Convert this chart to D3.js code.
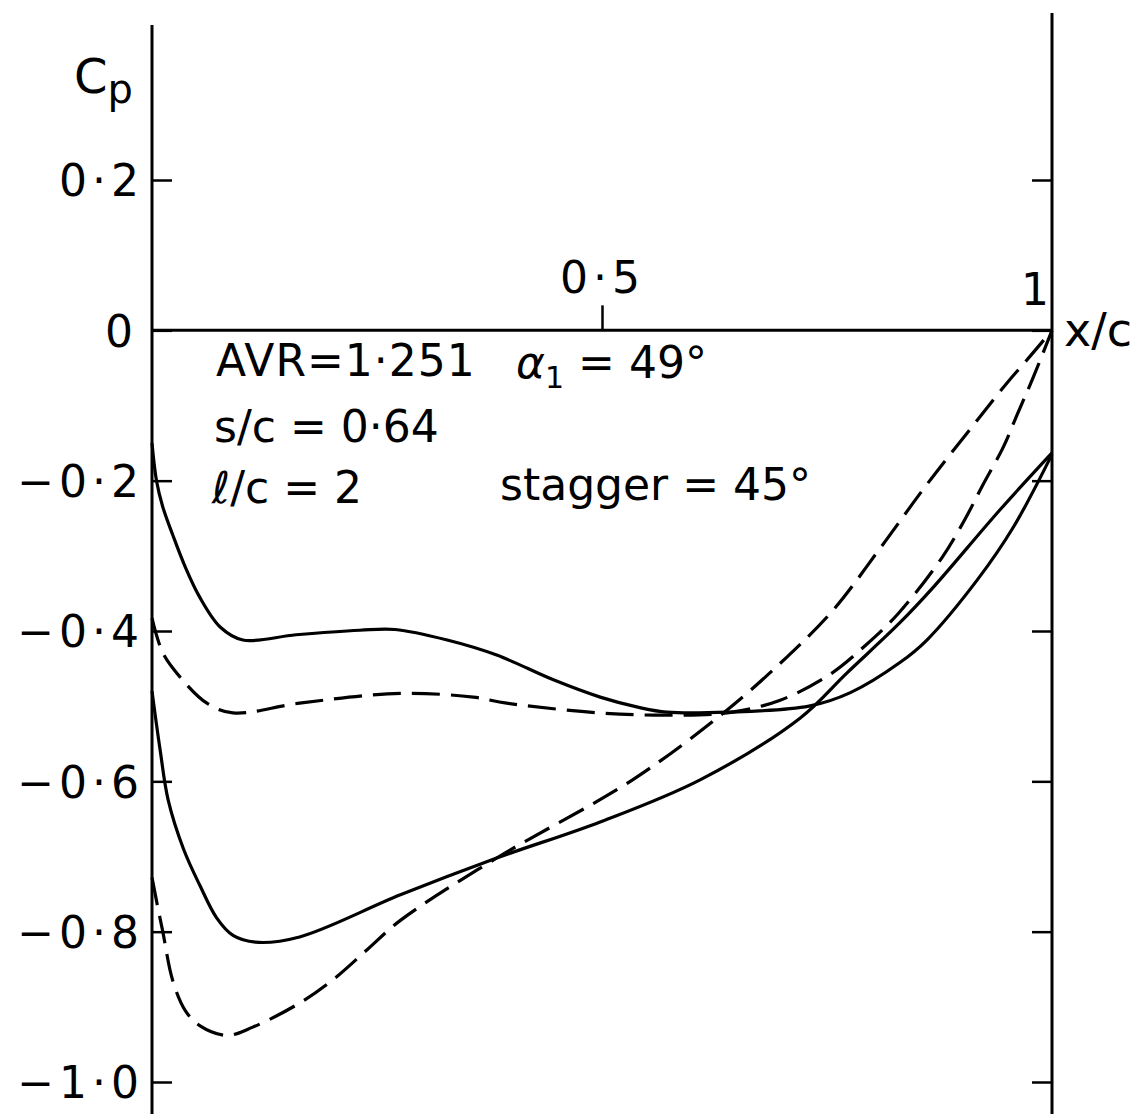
<!DOCTYPE html>
<html>
<head>
<meta charset="utf-8">
<script src="https://cdn.jsdelivr.net/npm/d3@7"></script>
<style>
  body { margin: 0; background: #fff; }
  text { font-family: "DejaVu Sans", sans-serif; fill: #000; }
</style>
</head>
<body>
<script>
// curve data (x/c, Cp)
var solidUpperX  = [0, 0.005, 0.012, 0.023, 0.037, 0.053, 0.076, 0.101, 0.16, 0.231, 0.27, 0.328, 0.383, 0.446, 0.498, 0.542, 0.572, 0.639, 0.73, 0.776, 0.831, 0.861, 0.917, 0.957, 1]
var solidUpperCp = [-0.15, -0.2, -0.235, -0.272, -0.315, -0.355, -0.395, -0.412, -0.405, -0.399, -0.398, -0.412, -0.432, -0.465, -0.488, -0.502, -0.508, -0.508, -0.5, -0.482, -0.442, -0.412, -0.332, -0.262, -0.165]

var solidLowerX  = [0, 0.009, 0.018, 0.035, 0.053, 0.072, 0.09, 0.115, 0.164, 0.276, 0.383, 0.498, 0.609, 0.72, 0.772, 0.831, 0.868, 0.942, 1]
var solidLowerCp = [-0.48, -0.558, -0.625, -0.69, -0.738, -0.782, -0.805, -0.814, -0.807, -0.751, -0.702, -0.654, -0.598, -0.516, -0.456, -0.389, -0.342, -0.239, -0.163]

var dashedUpperX  = [0, 0.012, 0.031, 0.061, 0.09, 0.164, 0.276, 0.357, 0.394, 0.498, 0.572, 0.639, 0.698, 0.753, 0.792, 0.829, 0.878, 0.903, 0.923, 0.946, 0.962, 0.979, 1]
var dashedUpperCp = [-0.383, -0.429, -0.461, -0.496, -0.509, -0.496, -0.483, -0.488, -0.496, -0.509, -0.512, -0.509, -0.492, -0.458, -0.42, -0.377, -0.302, -0.252, -0.206, -0.155, -0.11, -0.063, 0]

var dashedLowerX  = [0, 0.006, 0.012, 0.023, 0.037, 0.053, 0.083, 0.112, 0.164, 0.201, 0.239, 0.276, 0.383, 0.534, 0.639, 0.706, 0.757, 0.809, 0.861, 0.918, 0.95, 0.976, 1]
var dashedLowerCp = [-0.728, -0.765, -0.8, -0.865, -0.905, -0.925, -0.938, -0.927, -0.895, -0.864, -0.824, -0.785, -0.702, -0.598, -0.505, -0.434, -0.372, -0.29, -0.205, -0.118, -0.07, -0.034, 0]

var yTicks = [0.2, 0, -0.2, -0.4, -0.6, -0.8, -1.0]
var xTicks = [0.5, 1]

var width = 1147, height = 1114

var svg = d3.select("body").append("svg")
  .attr("width", width)
  .attr("height", height)

var x = d3.scaleLinear().domain([0, 1]).range([152, 1052])
var y = d3.scaleLinear().domain([0.2, -1.0]).range([180, 1082])

function fmt(d) {
  if (d === 0) return "0"
  if (d === 1) return "1"
  return (d < 0 ? "\u2212" : "") + Math.abs(d).toFixed(1).replace(".", "\u00b7")
}

// frame lines
svg.append("line").attr("x1", x(0)).attr("x2", x(0)).attr("y1", 25).attr("y2", height)
  .attr("stroke", "#000").attr("stroke-width", 3)
svg.append("line").attr("x1", x(1)).attr("x2", x(1)).attr("y1", 13).attr("y2", height)
  .attr("stroke", "#000").attr("stroke-width", 3)
svg.append("line").attr("x1", x(0)).attr("x2", x(1)).attr("y1", y(0)).attr("y2", y(0))
  .attr("stroke", "#000").attr("stroke-width", 3)

// left axis, ticks pointing inward
var leftAxis = svg.append("g")
  .attr("transform", "translate(" + x(0) + ",0)")
  .call(d3.axisLeft(y).tickValues(yTicks).tickFormat(fmt).tickSizeInner(-20).tickSizeOuter(0).tickPadding(10))
leftAxis.select(".domain").remove()
leftAxis.selectAll(".tick line").attr("stroke-width", 2.5)
leftAxis.selectAll(".tick text")
  .style("font-size", "44px")
  .style("letter-spacing", "5px")
  .attr("dy", "0.36em")
  .attr("x", function(d) { return d === 0 ? -14 : -8 })

// right axis, no labels
var rightAxis = svg.append("g")
  .attr("transform", "translate(" + x(1) + ",0)")
  .call(d3.axisRight(y).tickValues(yTicks).tickFormat("").tickSizeInner(-20).tickSizeOuter(0))
rightAxis.select(".domain").remove()
rightAxis.selectAll(".tick line").attr("stroke-width", 2.5)

// top axis along Cp = 0 (only the 0.5 tick shows; 1 sits on the frame)
var topAxis = svg.append("g")
  .attr("transform", "translate(0," + y(0) + ")")
  .call(d3.axisTop(x).tickValues(xTicks).tickFormat(fmt).tickSizeInner(25).tickSizeOuter(0).tickPadding(12))
topAxis.select(".domain").remove()
topAxis.selectAll(".tick line").attr("stroke-width", 2.5)
  .attr("y2", function(d) { return d === 1 ? 0 : -25 })
topAxis.selectAll(".tick text")
  .style("font-size", "44px")
  .style("letter-spacing", "5px")
  .attr("y", function(d) { return d === 1 ? -25 : -37 })
  .attr("x", function(d) { return d === 1 ? -15 : 0 })

// axis titles
var cp = svg.append("text").attr("x", 74).attr("y", 93).style("font-size", "48px")
cp.append("tspan").text("C")
cp.append("tspan").attr("dy", 10).style("font-size", "40px").text("p")

svg.append("text").attr("x", 1064).attr("y", 346).style("font-size", "46px").text("x/c")

// curves
var line = d3.line()
  .x(function(d) { return x(d[0]) })
  .y(function(d) { return y(d[1]) })
  .curve(d3.curveCatmullRom.alpha(0.5))

var curves = [
  {xs: solidUpperX, ys: solidUpperCp, dash: null},
  {xs: solidLowerX, ys: solidLowerCp, dash: null},
  {xs: dashedUpperX, ys: dashedUpperCp, dash: "28,11"},
  {xs: dashedLowerX, ys: dashedLowerCp, dash: "28,11"}
]

svg.selectAll(".curve")
  .data(curves)
  .enter()
  .append("path")
  .attr("class", "curve")
  .attr("d", function(c) { return line(c.xs.map(function(v, i) { return [v, c.ys[i]] })) })
  .attr("fill", "none")
  .attr("stroke", "#000")
  .attr("stroke-width", 3.2)
  .attr("stroke-dasharray", function(c) { return c.dash })

// annotation block
var note = svg.append("g").style("font-size", "44px")
note.append("text").attr("x", 216).attr("y", 376).style("letter-spacing", "1px").text("AVR=1\u00b7251")
var alpha = note.append("text").attr("x", 516).attr("y", 378).style("font-style", "italic")
alpha.append("tspan").text("\u03b1")
alpha.append("tspan").attr("dy", 10).style("font-size", "30px").style("font-style", "normal").text("1")
alpha.append("tspan").attr("dy", -10).style("font-style", "normal").text(" = 49\u00b0")
note.append("text").attr("x", 214).attr("y", 442).text("s/c = 0\u00b764")
note.append("text").attr("x", 212).attr("y", 503).text("\u2113/c = 2")
note.append("text").attr("x", 500).attr("y", 500).text("stagger = 45\u00b0")
</script>
</body>
</html>
